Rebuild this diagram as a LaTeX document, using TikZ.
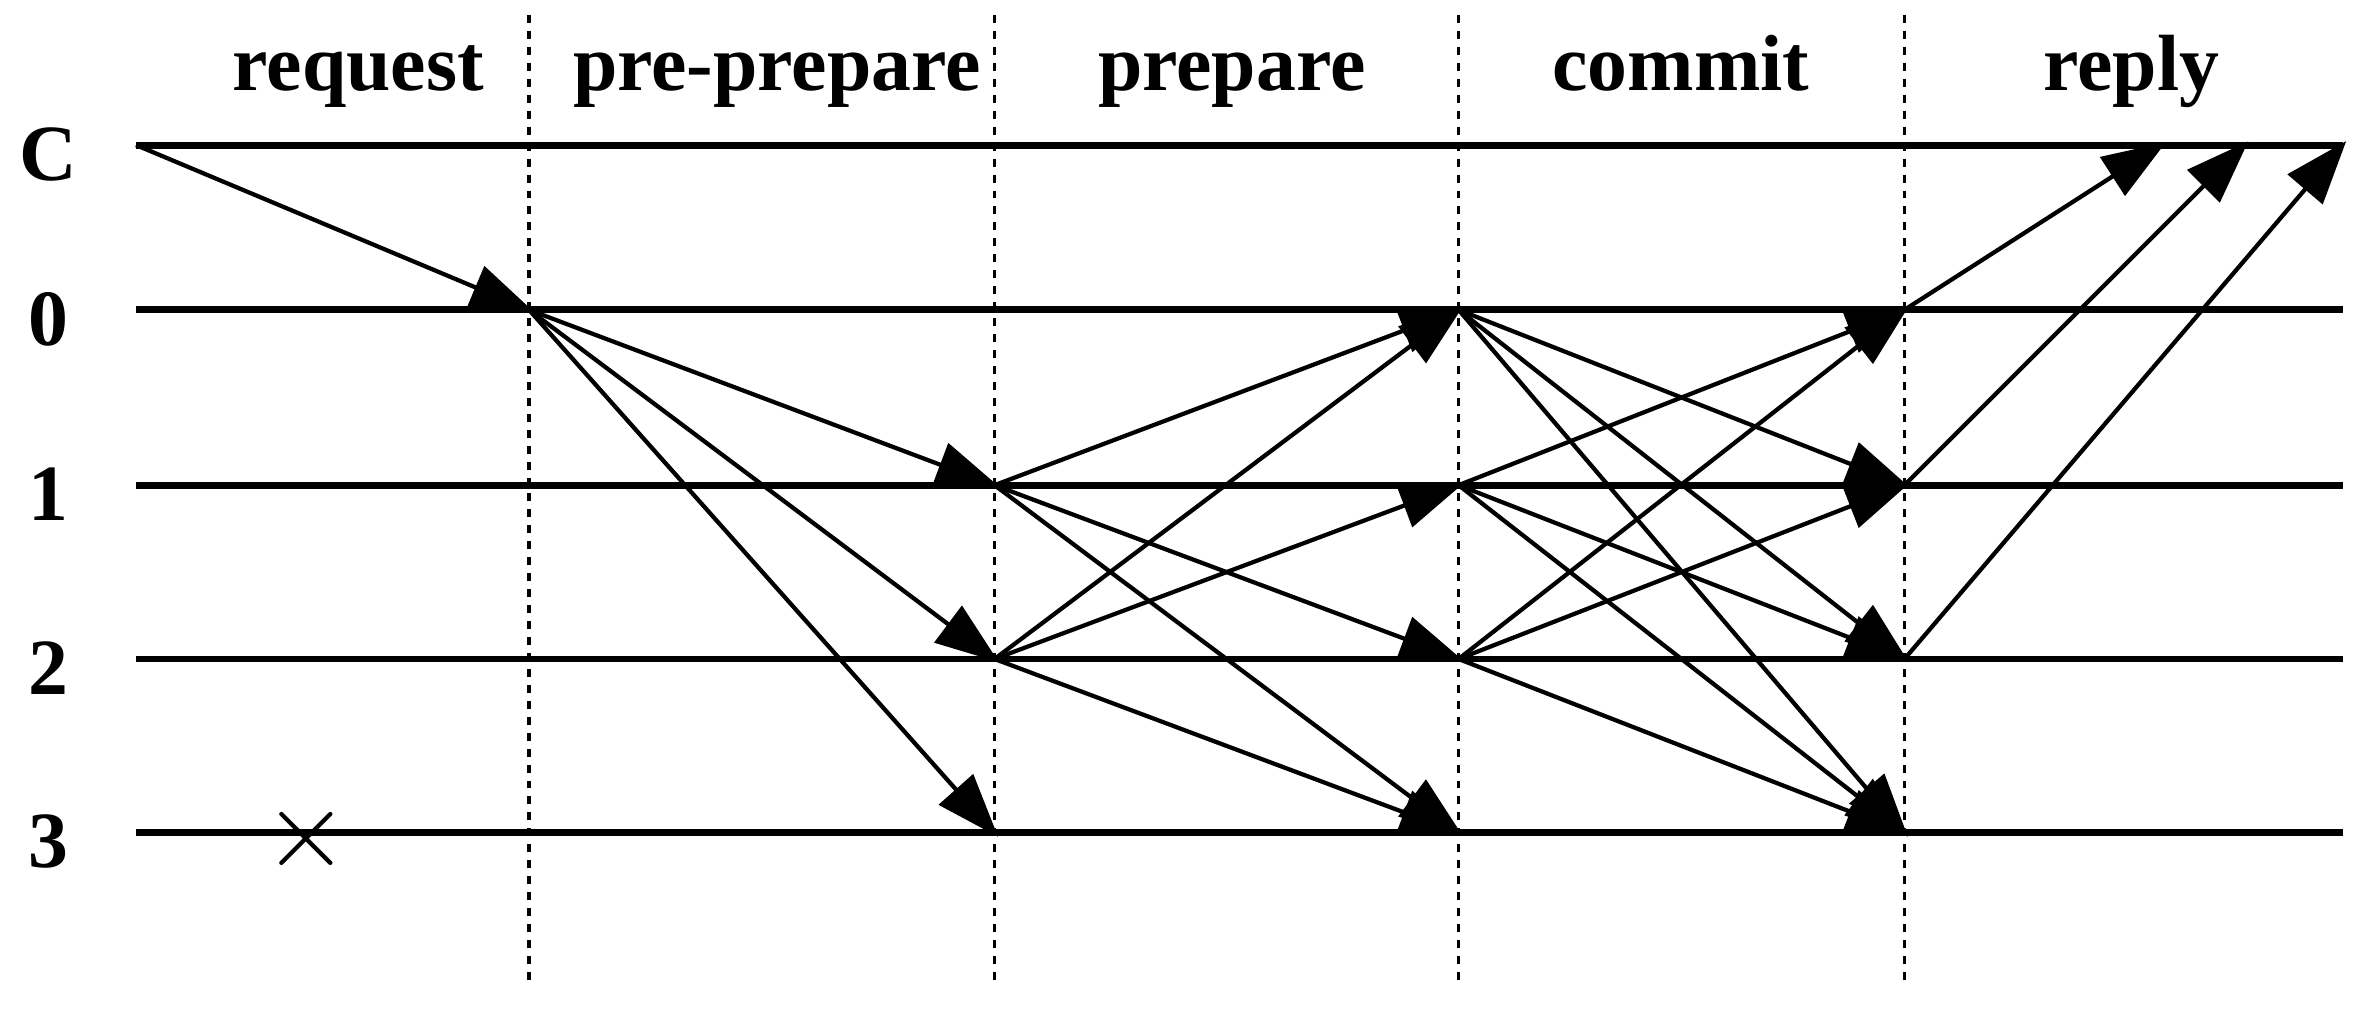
\documentclass[tikz,border=0pt]{standalone}
\usepackage{fontspec}
\setmainfont{Liberation Serif}
\usetikzlibrary{arrows.meta}
\begin{document}
\begin{tikzpicture}[x=0.01cm,y=-0.01cm,
  tl/.style={line width=1.3pt},
  vl/.style={line width=0.6pt,dash pattern=on 1.5pt off 1.5pt},
  msg/.style={line width=0.8pt,-{Triangle[length=0.42cm,width=0.3cm]},shorten >=-1pt},
  lab/.style={font=\fontsize{15}{17}\selectfont\bfseries,anchor=base},
  dlab/.style={font=\fontsize{15}{17}\selectfont\bfseries}]
\useasboundingbox (0,0) rectangle (1568,667);
% vertical phase separators
\foreach \x/\n in {350/a,658/b,965/c,1260/d}{
  \coordinate (t\n) at (\x,10); \coordinate (b\n) at (\x,652);
  \draw[vl] (t\n) -- (b\n);}
% phase labels
\node[lab] (l1) at (237,60) {request};
\node[lab] (l2) at (514,60) {pre-prepare};
\node[lab] (l3) at (815,60) {prepare};
\node[lab] (l4) at (1112,60) {commit};
\node[lab] (l5) at (1410,60) {reply};
% timelines
\foreach \r/\y in {C/96,0/205,1/321,2/436,3/551}{
  \node[dlab] (n\r) at (32,\y+6) {\r};
  \coordinate (s\r) at (90,\y); \coordinate (e\r) at (1550,\y);
  \draw[tl] (s\r) -- (e\r);
  \coordinate (a\r) at (350,\y); \coordinate (b\r) at (658,\y);
  \coordinate (c\r) at (965,\y); \coordinate (d\r) at (1260,\y);}
\coordinate (r1) at (1430,96); \coordinate (r2) at (1485,96);
% crash mark
\node[font=\fontsize{22}{22}\selectfont] (x) at (203,555) {$\times$};
% request
\draw[msg] (sC) -- (a0);
% pre-prepare
\foreach \t in {1,2,3} \draw[msg] (a0) -- (b\t);
% prepare
\foreach \t in {0,2,3} \draw[msg] (b1) -- (c\t);
\foreach \t in {0,1,3} \draw[msg] (b2) -- (c\t);
% commit
\foreach \t in {1,2,3} \draw[msg] (c0) -- (d\t);
\foreach \t in {0,2,3} \draw[msg] (c1) -- (d\t);
\foreach \t in {0,1,3} \draw[msg] (c2) -- (d\t);
% reply
\draw[msg] (d0) -- (r1);
\draw[msg] (d1) -- (r2);
\draw[msg] (d2) -- (eC);
\end{tikzpicture}
\end{document}
